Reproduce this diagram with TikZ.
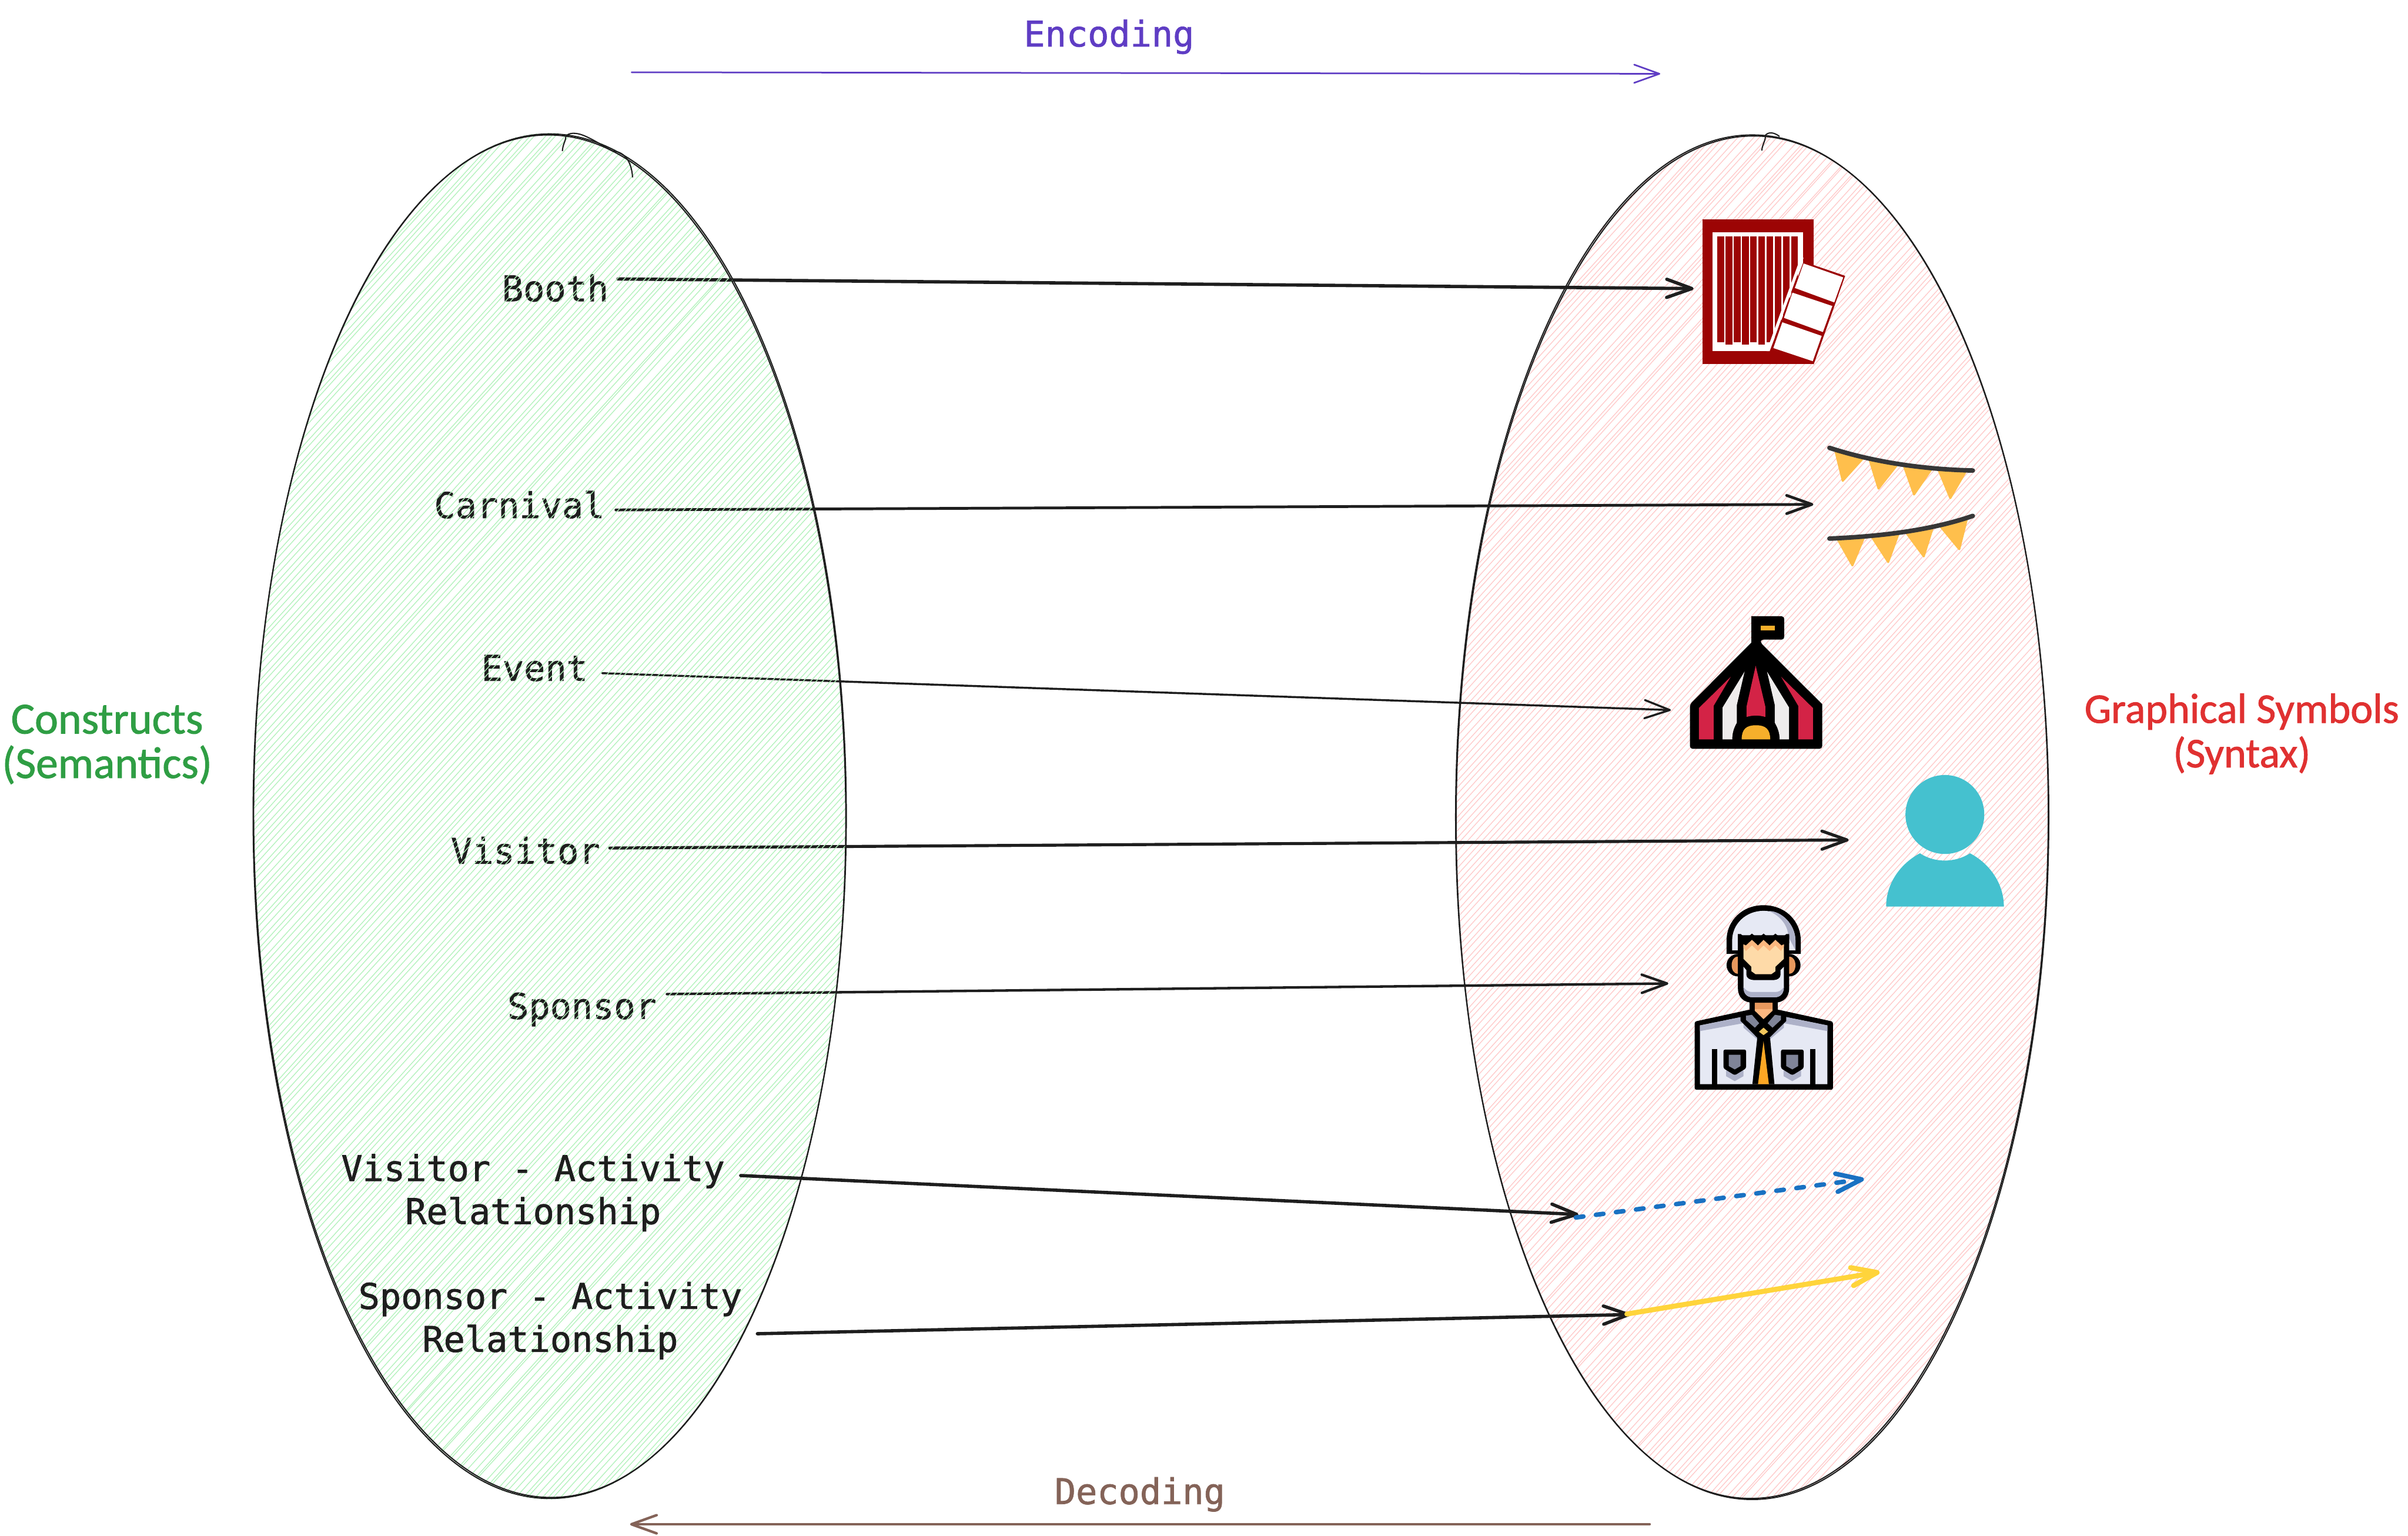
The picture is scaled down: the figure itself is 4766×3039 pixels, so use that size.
\documentclass[tikz,border=0pt]{standalone}
\usepackage{fontspec}
\usetikzlibrary{arrows.meta}
\setmainfont[FakeBold=1.2]{DejaVu Sans Mono}
\newfontfamily\handfont[FakeBold=1.2]{Carlito}
\definecolor{inkc}{HTML}{1E1E1E}
\definecolor{hgreen}{HTML}{B2F2BB}
\definecolor{hpink}{HTML}{FFC9C9}
\definecolor{encc}{HTML}{5F3DC4}
\definecolor{decc}{HTML}{846358}
\definecolor{gtext}{HTML}{2F9E44}
\definecolor{rtext}{HTML}{E03131}
\definecolor{bluec}{HTML}{1971C2}
\definecolor{yelc}{HTML}{FFD43B}
\definecolor{boothred}{HTML}{9C0404}
\definecolor{flagy}{HTML}{FFBF4C}
\definecolor{stringc}{HTML}{373737}
\definecolor{tentred}{HTML}{D32346}
\definecolor{tentwhite}{HTML}{EEECEC}
\definecolor{tenty}{HTML}{F6AF2B}
\definecolor{persc}{HTML}{45C1CF}
\definecolor{palec}{HTML}{E6E9F4}
\definecolor{shadec}{HTML}{ADB1C8}
\definecolor{greyc}{HTML}{7F8498}
\definecolor{skinc}{HTML}{FEDAA8}
\definecolor{skind}{HTML}{FCB77F}
\definecolor{earc}{HTML}{E8995E}
\definecolor{tiec}{HTML}{FDA724}
\definecolor{knotc}{HTML}{F3C65C}
\tikzset{
  px/.style={line width=#1*0.01cm},
  barb/.style={-{Straight Barb[length=0.5cm,width=0.36cm,round]}},
  conn/.style={draw=inkc,px=#1,line cap=round,barb},
  lbl/.style={text=inkc,inner sep=0pt,anchor=base,font=\fontsize{19.92}{24.2}\selectfont},
  lblm/.style={text=inkc,inner sep=0pt,anchor=center,align=center,font=\fontsize{19.92}{24.2}\selectfont},
  hand/.style={inner sep=0pt,anchor=center,align=center,font=\handfont\fontsize{#1}{25}\selectfont},
  outline/.style={draw=inkc,px=2.4},
  rnd/.style={line join=round,draw,px=#1},
}
\newcommand{\hatchlines}[4]{%
  \begin{scope}
    \clip (#1,#2) ellipse [x radius=587,y radius=#3];
    \foreach \k in {-110,...,110}{
      \pgfmathsetmacro{\off}{\k*13+rand*2}
      \pgfmathsetmacro{\tilt}{rand*6}
      \draw[#4,px=1.5] (#1+\off-1500+\tilt,#2+1650) -- (#1+\off+1500-\tilt,#2-1650);
    }
  \end{scope}}
\begin{document}
\begin{tikzpicture}[x=0.01cm,y=-0.01cm]
\pgfmathsetseed{7}
\fill[white] (0,0) rectangle (4766,3039);
\useasboundingbox (0,0) rectangle (4766,3039);

% free ends of the connectors
\coordinate (bS) at (1223,552);  \coordinate (bE) at (3352,571);
\coordinate (cS) at (1219,1009); \coordinate (cE) at (3589,998);
\coordinate (eS) at (1192,1332); \coordinate (eE) at (3307,1405);
\coordinate (vS) at (1207,1678); \coordinate (vE) at (3659,1662);
\coordinate (sS) at (1320,1967); \coordinate (sE) at (3302,1946);
\coordinate (vaS) at (1466,2326); \coordinate (vaE) at (3124,2403);
\coordinate (saS) at (1499,2639); \coordinate (saE) at (3227,2601);
\coordinate (blS) at (3119,2409); \coordinate (blE) at (3689,2333);
\coordinate (yeS) at (3220,2600); \coordinate (yeE) at (3720,2517);
\coordinate (enS) at (1250,143);  \coordinate (enE) at (3286,146);
\coordinate (deS) at (3265,3016); \coordinate (deE) at (1247,3016);

% right ellipse fill
\hatchlines{3468}{1617}{1350}{hpink}

% plain connectors and labels, lying under the green fill
\draw[conn=6.5] (bS) -- (bE);
\draw[conn=5.5] (cS) -- (cE);
\draw[conn=4] (eS) -- (eE);
\draw[conn=6] (vS) -- (vE);
\draw[conn=5] (sS) -- (sE);
\node[lbl] (booth) at (1099,596) {Booth};
\node[lbl] (carnival) at (1028,1025) {Carnival};
\node[lbl] (event) at (1058,1347) {Event};
\node[lbl] (visitor) at (1040,1709) {Visitor};
\node[lbl] (sponsor) at (1152,2016) {Sponsor};

% left ellipse fill
\hatchlines{1088}{1615}{1352}{hgreen}

% ellipse outlines
\draw[outline] (1088,1615) ellipse [x radius=587,y radius=1350];
\draw[outline,rotate around={0.15:(1088,1615)}] (1088,1615) ellipse [x radius=586,y radius=1348];
\draw[outline] (1113,299) .. controls (1114,285) and (1120,278) .. (1120,270) .. controls (1125,262) and (1140,262) .. (1155,268) .. controls (1175,276) and (1195,290) .. (1213,299) .. controls (1235,300) and (1250,318) .. (1252,351);
\draw[outline] (3468,1617) ellipse [x radius=587,y radius=1350];
\draw[outline,rotate around={-0.15:(3468,1617)}] (3468,1617) ellipse [x radius=586,y radius=1348];
\draw[outline] (3487,298) .. controls (3488,285) and (3495,278) .. (3494,268) .. controls (3500,260) and (3512,262) .. (3522,270);

% activity connectors and labels
\draw[conn=6.5] (vaS) -- (vaE);
\draw[conn=6.5] (saS) -- (saE);
\node[lblm] (va) at (1055,2360) {Visitor - Activity\\Relationship};
\node[lblm] (sa) at (1089,2613) {Sponsor - Activity\\Relationship};
\draw[bluec,px=9,line cap=round,dash pattern=on 0.15cm off 0.25cm,barb] (blS) -- (blE);
\draw[yelc,px=10,line cap=round,barb] (yeS) -- (yeE);

% encoding and decoding
\draw[encc,px=3.2,line cap=round,barb] (enS) -- (enE);
\draw[decc,px=5,line cap=round,barb] (deS) -- (deE);
\node[lbl,text=encc] (enc) at (2195,92) {Encoding};
\node[lbl,text=decc] (dec) at (2256,2976) {Decoding};

% side captions
\node[hand=25,text=gtext] (constructs) at (212,1473) {Constructs\\(Semantics)};
\node[hand=23.8,text=rtext] (graphical) at (4437,1452) {Graphical Symbols\\(Syntax)};

% booth icon
\begin{scope}[shift={(3250,380)},xscale=0.4785,yscale=0.5102]
  \fill[boothred] (250,105) rectangle (710,668);
  \fill[white] (292,157) rectangle (667,617);
  \foreach \a/\e in {311/583,345/592,379/583,413/592,447/583,481/592,515/583,549/583,583/583,617/583}
    \fill[boothred] (\a,173) rectangle (\a+28,\e);
  \fill[white] (668,255) -- (655,255) -- (515,617) -- (528,617) -- cycle;
  \fill[boothred] (668,270) -- (840,325) -- (710,668) -- (528,617) -- cycle;
  \fill[white] (668,277) -- (832,331) -- (795,428) -- (632,372) -- cycle;
  \fill[white] (622,390) -- (787,442) -- (748,543) -- (587,488) -- cycle;
  \fill[white] (580,505) -- (743,558) -- (706,656) -- (543,605) -- cycle;
\end{scope}

% bunting icon
\begin{scope}[shift={(3250,380)},xscale=0.4785,yscale=0.5102]
  \filldraw[flagy,rnd=4] (800,1005) -- (912,1035) -- (830,1120) -- cycle;
  \filldraw[flagy,rnd=4] (940,1035) -- (1052,1062) -- (978,1150) -- cycle;
  \filldraw[flagy,rnd=4] (1082,1060) -- (1197,1075) -- (1125,1173) -- cycle;
  \filldraw[flagy,rnd=4] (1225,1075) -- (1340,1082) -- (1275,1187) -- cycle;
  \filldraw[flagy,rnd=4] (808,1345) -- (918,1340) -- (870,1448) -- cycle;
  \filldraw[flagy,rnd=4] (950,1337) -- (1061,1325) -- (1018,1435) -- cycle;
  \filldraw[flagy,rnd=4] (1094,1323) -- (1203,1300) -- (1165,1413) -- cycle;
  \filldraw[flagy,rnd=4] (1235,1298) -- (1343,1270) -- (1312,1385) -- cycle;
  \draw[stringc,px=9,line cap=round] (775,992) .. controls (950,1045) and (1150,1075) .. (1368,1080);
  \draw[stringc,px=9,line cap=round] (775,1344) .. controls (1000,1335) and (1200,1310) .. (1368,1256);
\end{scope}

% tent icon
\begin{scope}[shift={(3250,1180)},xscale=0.4785,yscale=0.3333]
  \fill[black,rounded corners=1.5pt] (452,118) -- (588,118) -- (588,257) -- (490,257) -- (490,275) [sharp corners] -- (745,640) [rounded corners=1.5pt] -- (745,905) -- (198,905) -- (198,640) [sharp corners] -- (452,275) -- cycle;
  \fill[tenty] (490,173) rectangle (550,202);
  \fill[tentred] (235,663) -- (367,477) -- (296,650) -- (296,849) -- (235,849) -- cycle;
  \fill[tentred] (707,663) -- (575,477) -- (646,650) -- (646,849) -- (707,849) -- cycle;
  \fill[tentwhite] (333,660) -- (424,447) -- (392,645) -- (392,750) .. controls (380,780) and (373,810) .. (373,849) -- (333,849) -- cycle;
  \fill[tentwhite] (608,660) -- (517,447) -- (549,645) -- (549,750) .. controls (561,780) and (569,810) .. (569,849) -- (608,849) -- cycle;
  \fill[tentred] (432,655) -- (470,412) -- (510,655) -- (510,716) .. controls (485,705) and (457,705) .. (432,716) -- cycle;
  \fill[tenty] (412,849) .. controls (412,790) and (430,765) .. (471,765) .. controls (512,765) and (530,790) .. (530,849) -- cycle;
\end{scope}

% person icon
\begin{scope}[shift={(3300,1500)},xscale=0.4785,yscale=0.4464]
  \fill[persc] (1148,250) ellipse [x radius=163,y radius=175];
  \fill[persc] (905,658) .. controls (905,560) and (960,470) .. (1045,422) .. controls (1105,465) and (1190,465) .. (1252,422) .. controls (1337,470) and (1392,560) .. (1392,658) -- cycle;
\end{scope}

% sponsor icon
\begin{scope}[shift={(3300,1500)},xscale=0.4785,yscale=0.4464]
  % torso
  \fill[black,rounded corners=1pt] (113,1168) -- (340,1115) -- (458,1115) -- (685,1168) -- (685,1470) -- (113,1470) -- cycle;
  \fill[palec] (135,1185) -- (305,1148) -- (492,1148) -- (662,1185) -- (662,1445) -- (135,1445) -- cycle;
  \fill[shadec] (135,1185) -- (305,1148) -- (492,1148) -- (662,1185) -- (662,1210) -- (482,1175) -- (482,1195) -- (420,1250) -- (375,1250) -- (315,1195) -- (315,1175) -- (135,1210) -- cycle;
  % pockets and seams
  \fill[shadec] (243,1385) -- (243,1410) -- (279,1432) -- (315,1410) -- (315,1385) -- cycle;
  \fill[shadec] (481,1385) -- (481,1410) -- (517,1432) -- (553,1410) -- (553,1385) -- cycle;
  \fill[black] (185,1290) rectangle (207,1445);
  \fill[black] (590,1290) rectangle (612,1445);
  \fill[black,rounded corners=1pt] (232,1292) -- (326,1292) -- (326,1375) -- (279,1406) -- (232,1375) -- cycle;
  \fill[black,rounded corners=1pt] (470,1292) -- (564,1292) -- (564,1375) -- (517,1406) -- (470,1375) -- cycle;
  \fill[greyc] (254,1315) -- (303,1315) -- (303,1365) -- (279,1380) -- (254,1365) -- cycle;
  \fill[greyc] (492,1315) -- (541,1315) -- (541,1365) -- (517,1380) -- (492,1365) -- cycle;
  % tie
  \fill[black] (372,1240) -- (425,1240) -- (443,1445) -- (352,1445) -- cycle;
  \fill[tiec] (398,1255) -- (420,1445) -- (375,1445) -- cycle;
  % collar
  \fill[black] (303,1140) -- (340,1115) -- (458,1115) -- (492,1140) -- (492,1165) -- (415,1248) -- (380,1248) -- (303,1165) -- cycle;
  \fill[greyc] (325,1142) -- (350,1138) -- (380,1175) -- (362,1195) -- (325,1160) -- cycle;
  \fill[greyc] (470,1142) -- (445,1138) -- (415,1175) -- (435,1195) -- (470,1160) -- cycle;
  \fill[knotc] (398,1195) -- (417,1213) -- (398,1228) -- (379,1213) -- cycle;
  % neck
  \fill[black] (340,1070) rectangle (458,1125);
  \fill[skind] (362,1085) -- (435,1085) -- (435,1120) -- (398,1157) -- (362,1120) -- cycle;
  \fill[earc] (362,1085) rectangle (435,1112);
  % ears
  \fill[black] (293,918) ellipse [x radius=48,y radius=50];
  \fill[black] (503,918) ellipse [x radius=48,y radius=50];
  \fill[earc] (290,918) ellipse [x radius=24,y radius=38];
  \fill[earc] (506,918) ellipse [x radius=24,y radius=38];
  % hair
  \fill[black] (245,868) -- (245,810) .. controls (245,720) and (310,652) .. (398,652) .. controls (486,652) and (552,720) .. (552,810) -- (552,868) -- cycle;
  \fill[palec] (268,852) -- (268,810) .. controls (268,735) and (325,677) .. (398,677) .. controls (471,677) and (530,735) .. (530,810) -- (530,852) -- cycle;
  \fill[shadec] (420,678) .. controls (470,700) and (500,745) .. (500,790) -- (530,852) -- (530,810) .. controls (530,735) and (471,677) .. (420,678) -- cycle;
  % beard and face
  \fill[black] (292,785) -- (504,785) -- (504,1020) .. controls (504,1060) and (480,1084) .. (445,1084) -- (352,1084) .. controls (316,1084) and (292,1060) .. (292,1020) -- cycle;
  \fill[palec] (315,925) -- (327,940) -- (327,962) .. controls (327,975) and (342,984) .. (358,984) -- (440,984) .. controls (455,984) and (468,975) .. (468,962) -- (468,940) -- (482,925) -- (482,1015) .. controls (482,1045) and (466,1060) .. (445,1060) -- (352,1060) .. controls (330,1060) and (315,1045) .. (315,1015) -- cycle;
  \fill[shadec] (315,1015) .. controls (325,1030) and (335,1037) .. (352,1037) -- (445,1037) .. controls (462,1037) and (472,1030) .. (482,1015) .. controls (482,1045) and (466,1060) .. (445,1060) -- (352,1060) .. controls (330,1060) and (315,1045) .. (315,1015) -- cycle;
  \fill[skinc] (315,825) -- (325,827) -- (350,805) -- (375,830) -- (398,805) -- (423,830) -- (447,805) -- (472,827) -- (482,825) -- (482,890) -- (447,925) -- (447,945) -- (430,958) -- (365,958) -- (348,945) -- (348,925) -- (315,890) -- cycle;
  \fill[skind] (315,825) -- (325,827) -- (350,805) -- (375,830) -- (398,805) -- (423,830) -- (447,805) -- (472,827) -- (482,825) -- (482,835) -- (470,855) -- (447,830) -- (423,855) -- (398,830) -- (375,855) -- (350,830) -- (325,855) -- (315,840) -- cycle;
  \fill[black] (292,780) -- (304,780) -- (325,800) -- (350,778) -- (375,800) -- (398,778) -- (423,800) -- (447,778) -- (472,800) -- (492,780) -- (504,780) -- (504,820) -- (482,825) -- (472,830) -- (447,805) -- (423,830) -- (398,805) -- (375,830) -- (350,805) -- (325,830) -- (315,825) -- (292,825) -- cycle;
\end{scope}
\end{tikzpicture}
\end{document}
